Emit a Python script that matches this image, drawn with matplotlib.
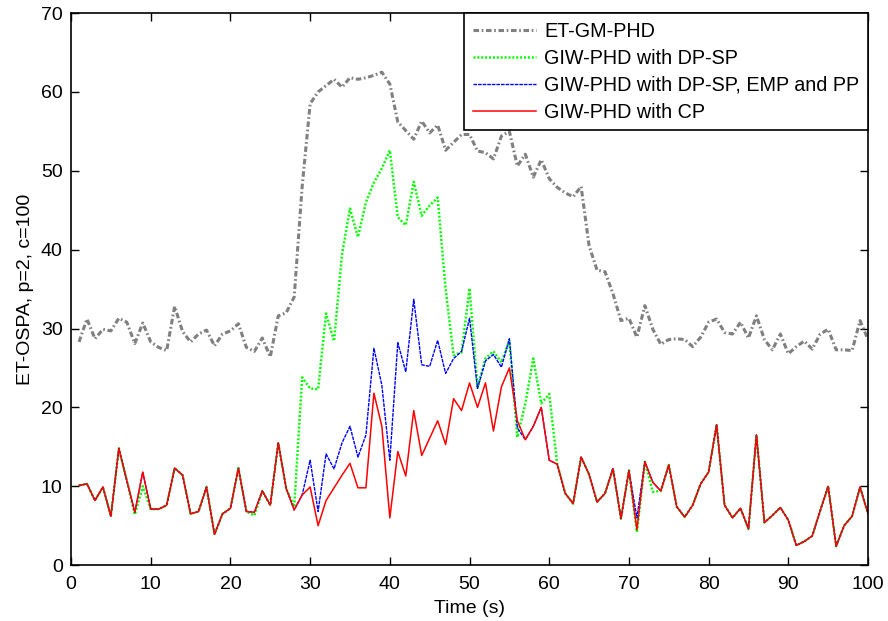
import matplotlib
matplotlib.use("Agg")
import matplotlib.pyplot as plt
import numpy as np

t = list(range(1, 101))

et_gm_phd = [28.3, 31.2, 28.7, 29.9, 29.7, 31.3, 30.8, 28.1, 30.7, 28.3,
             27.6, 27.2, 32.8, 29.6, 28.3, 29.3, 29.8, 27.8, 29.3, 29.7,
             30.6, 27.6, 27.1, 28.8, 26.4, 31.6, 32.0, 34.0, 48.0, 58.5,
             60.0, 60.8, 61.6, 60.6, 61.8, 61.6, 61.8, 62.1, 62.5, 61.0,
             56.2, 55.1, 54.0, 56.3, 54.8, 55.8, 52.6, 53.6, 54.6, 54.6,
             52.5, 52.3, 51.5, 54.4, 55.0, 50.6, 52.1, 49.2, 51.4, 49.0,
             47.9, 47.2, 46.7, 48.0, 40.5, 37.4, 37.2, 34.4, 31.0, 31.3,
             28.9, 32.9, 29.9, 28.0, 28.6, 28.7, 28.6, 27.7, 28.9, 30.8,
             31.2, 29.5, 29.3, 30.8, 28.8, 31.6, 28.6, 27.3, 29.3, 26.8,
             27.7, 28.4, 27.4, 29.3, 29.9, 27.3, 27.3, 27.2, 31.0, 28.6]

giw_cp = [10.1, 10.3, 8.2, 9.9, 6.2, 14.8, 10.7, 6.7, 11.8, 7.1,
          7.1, 7.6, 12.3, 11.4, 6.5, 6.8, 9.9, 3.9, 6.5, 7.2,
          12.3, 6.8, 6.7, 9.4, 7.6, 15.5, 9.7, 7.0, 8.9, 9.9,
          5.0, 8.2, 9.8, 11.4, 12.9, 9.8, 9.8, 21.8, 17.6, 6.0,
          14.4, 11.3, 19.6, 13.9, 16.1, 18.3, 15.3, 21.1, 19.6, 23.1,
          20.0, 23.1, 17.0, 22.6, 25.0, 18.3, 15.9, 17.6, 20.0, 13.3,
          12.8, 9.1, 7.8, 13.7, 11.5, 8.0, 9.1, 12.2, 5.9, 12.0,
          4.5, 13.1, 10.5, 9.4, 12.7, 7.4, 6.1, 7.6, 10.3, 11.8,
          17.8, 7.6, 6.0, 7.2, 4.6, 16.5, 5.4, 6.3, 7.3, 5.7,
          2.5, 3.0, 3.7, 6.9, 10.0, 2.4, 5.0, 6.2, 9.9, 6.5]

giw_dpsp = [10.1, 10.3, 8.2, 9.9, 6.2, 14.8, 10.7, 6.4, 10.0, 7.1,
            7.1, 7.6, 12.3, 11.4, 6.5, 6.8, 9.9, 3.9, 6.5, 7.2,
            12.3, 6.8, 6.3, 9.4, 7.6, 15.5, 9.7, 7.4, 23.8, 22.4,
            22.3, 31.9, 28.4, 39.4, 45.2, 41.6, 46.0, 48.5, 50.3, 52.6,
            44.1, 43.1, 48.6, 44.3, 45.6, 46.6, 35.0, 26.6, 27.0, 35.1,
            22.5, 26.2, 27.1, 25.7, 28.5, 16.2, 20.5, 26.2, 20.5, 21.7,
            12.8, 9.1, 7.8, 13.7, 11.5, 8.0, 9.1, 12.2, 5.9, 12.0,
            4.2, 13.1, 9.3, 9.4, 12.7, 7.4, 6.1, 7.6, 10.3, 11.8,
            17.8, 7.6, 6.0, 7.2, 4.6, 16.5, 5.4, 6.3, 7.3, 5.7,
            2.5, 3.0, 3.7, 6.9, 10.0, 2.4, 5.0, 6.2, 9.9, 6.5]

giw_dpsp_emp_pp = [10.1, 10.3, 8.2, 9.9, 6.2, 14.8, 10.7, 6.7, 11.8, 7.1,
                   7.1, 7.6, 12.3, 11.4, 6.5, 6.8, 9.9, 3.9, 6.5, 7.2,
                   12.3, 6.8, 6.7, 9.4, 7.6, 15.5, 9.7, 7.0, 8.9, 13.3,
                   6.8, 14.1, 12.2, 15.5, 17.6, 13.7, 16.5, 27.5, 22.8, 13.3,
                   28.2, 24.5, 33.7, 25.4, 25.2, 28.5, 24.3, 26.2, 27.1, 31.3,
                   22.4, 25.9, 26.7, 25.1, 28.7, 17.4, 15.9, 17.6, 20.0, 13.3,
                   12.8, 9.1, 7.8, 13.7, 11.5, 8.0, 9.1, 12.3, 5.9, 12.0,
                   6.0, 13.1, 10.5, 9.4, 12.7, 7.4, 6.1, 7.6, 10.3, 11.8,
                   17.8, 7.6, 6.0, 7.2, 4.6, 16.5, 5.4, 6.3, 7.3, 5.7,
                   2.5, 3.0, 3.7, 6.9, 10.0, 2.4, 5.0, 6.2, 9.9, 6.5]

labels = ["ET-GM-PHD", "GIW-PHD with DP-SP",
          "GIW-PHD with DP-SP, EMP and PP", "GIW-PHD with CP"]
x_ticks = list(range(0, 101, 10))
y_ticks = list(range(0, 71, 10))

plt.rcParams['font.family'] = ['Liberation Sans', 'DejaVu Sans']
plt.rcParams['font.size'] = 14
plt.rcParams['lines.scale_dashes'] = False

fig = plt.figure(figsize=(8.88, 6.21), dpi=100)
ax = fig.add_axes([0.080, 0.090, 0.8975, 0.889])

ax.plot(t, et_gm_phd, color='#808080', lw=2.2,
        linestyle=(0, (4.0, 1.9, 1.2, 1.9)), label=labels[0])
ax.plot(t, giw_dpsp, color='#00ff00', lw=1.8,
        linestyle=(0, (1.4, 1.4)), label=labels[1])
ax.plot(t, giw_dpsp_emp_pp, color='#0000ff', lw=1.0,
        linestyle=(0, (2.6, 0.7)), label=labels[2])
ax.plot(t, giw_cp, color='#ff0000', lw=1.1, linestyle='-', label=labels[3])

ax.set_xlim(0, 100)
ax.set_ylim(0, 70)
ax.set_xticks(x_ticks)
ax.set_yticks(y_ticks)
ax.tick_params(axis='x', pad=8)
ax.tick_params(axis='y', pad=6)
ax.tick_params(direction='in', length=6, width=1, top=True, right=True,
               labelsize=14)
for s in ax.spines.values():
    s.set_linewidth(1.2)
    s.set_color('black')

ax.set_xlabel('Time (s)', fontsize=14, labelpad=5)
ax.set_ylabel('ET-OSPA, p=2, c=100', fontsize=14, labelpad=5)

leg = ax.legend(loc='upper right', bbox_to_anchor=(1.0, 1.0), borderaxespad=0,
                fancybox=False, framealpha=1, edgecolor='black',
                handlelength=3.2, handletextpad=0.4, labelspacing=0.4,
                borderpad=0.45, fontsize=14.2)
leg.get_frame().set_linewidth(1.2)

fig.savefig('out.png', dpi=100, facecolor='white')
